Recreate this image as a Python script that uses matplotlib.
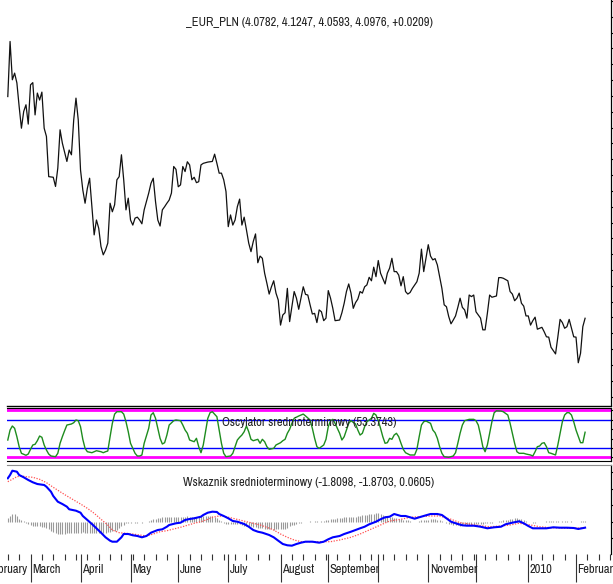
import numpy as np
import pandas as pd
import matplotlib
matplotlib.use("Agg")
import matplotlib.pyplot as plt
from matplotlib import font_manager
from matplotlib.ticker import MultipleLocator, FixedLocator

# narrow face for all labels if one is available, plain Liberation Sans otherwise
font_kw, font_size = dict(family='Liberation Sans'), 8.0
for f in font_manager.fontManager.ttflist:
    if 'Narrow' in f.name or 'Condensed' in f.name:
        font_kw, font_size = dict(family=f.name), 9.0
        break
    if f.stretch in ('condensed', 'semi-condensed') and f.name in ('DejaVu Sans', 'Liberation Sans', 'Roboto'):
        font_kw, font_size = dict(family=f.name, fontstretch=f.stretch), 9.0
plt.rcParams['font.family'] = [font_kw['family'], 'DejaVu Sans']

# trading sessions, position 0 = 2009-02-16 (first quote on the chart)
sessions = pd.bdate_range("2009-02-02", "2010-02-26")
origin = sessions.get_loc(pd.Timestamp("2009-02-16"))
session_pos = np.arange(len(sessions)) - origin

# EUR/PLN close
price_day = [0, 1, 2, 3, 4, 5, 6, 7, 8, 9, 10, 11, 12, 13, 14, 15, 16, 17, 18, 20,
             21, 22, 23, 24, 26, 27, 28, 29, 30, 31, 32, 33, 34, 35, 36, 37, 38, 39, 40, 41,
             42, 43, 44, 45, 46, 47, 48, 49, 50, 51, 52, 53, 54, 55, 56, 57, 58, 59, 60, 62,
             63, 64, 65, 66, 67, 68, 69, 70, 71, 72, 73, 74, 75, 76, 77, 78, 79, 80, 81, 82,
             83, 84, 85, 86, 88, 90, 91, 92, 93, 94, 95, 96, 97, 98, 99, 100, 101, 102, 103, 104,
             105, 106, 107, 108, 109, 110, 111, 112, 113, 114, 115, 116, 117, 118, 119, 120, 121, 122, 123, 124,
             126, 127, 128, 130, 131, 132, 133, 134, 135, 136, 137, 138, 139, 140, 141, 142, 143, 144, 146, 147,
             148, 149, 150, 151, 152, 153, 154, 155, 156, 157, 158, 159, 160, 161, 162, 163, 164, 166, 167, 168,
             169, 170, 171, 172, 173, 174, 175, 176, 177, 178, 180, 181, 182, 183, 185, 186, 187, 188, 189, 190,
             191, 192, 193, 194, 195, 196, 197, 198, 199, 200, 201, 202, 203, 204, 205, 206, 207, 208, 209, 210,
             211, 212, 213, 214, 215, 216, 217, 218, 220, 221, 222, 223, 224, 225, 226, 227, 228, 229, 230, 231,
             232, 233, 235, 236, 237, 238, 239, 241, 242, 243, 244, 245, 246, 247, 248, 249, 250, 251, 252, 253,
             254]
price = [4.798, 4.972, 4.851, 4.872, 4.841, 4.766, 4.698, 4.751, 4.772, 4.711, 4.835, 4.842, 4.740, 4.809, 4.787, 4.812, 4.698, 4.672, 4.545, 4.543,
         4.514, 4.572, 4.693, 4.651, 4.593, 4.629, 4.614, 4.724, 4.793, 4.724, 4.566, 4.503, 4.461, 4.508, 4.540, 4.450, 4.361, 4.408, 4.382, 4.324,
         4.298, 4.313, 4.335, 4.461, 4.434, 4.456, 4.535, 4.545, 4.614, 4.535, 4.440, 4.477, 4.408, 4.392, 4.414, 4.417, 4.408, 4.396, 4.440, 4.493,
         4.524, 4.540, 4.466, 4.408, 4.389, 4.440, 4.450, 4.461, 4.471, 4.493, 4.577, 4.568, 4.513, 4.519, 4.577, 4.561, 4.592, 4.582, 4.535, 4.543,
         4.526, 4.529, 4.582, 4.587, 4.591, 4.593, 4.616, 4.587, 4.556, 4.556, 4.535, 4.498, 4.387, 4.424, 4.392, 4.408, 4.450, 4.474, 4.392, 4.417,
         4.377, 4.335, 4.308, 4.340, 4.364, 4.273, 4.294, 4.287, 4.240, 4.208, 4.174, 4.197, 4.216, 4.177, 4.155, 4.076, 4.108, 4.115, 4.192, 4.087,
         4.182, 4.161, 4.126, 4.197, 4.173, 4.171, 4.140, 4.111, 4.113, 4.084, 4.124, 4.118, 4.090, 4.098, 4.185, 4.161, 4.129, 4.090, 4.092, 4.115,
         4.145, 4.182, 4.206, 4.177, 4.129, 4.147, 4.158, 4.182, 4.177, 4.197, 4.203, 4.227, 4.216, 4.259, 4.229, 4.280, 4.240, 4.206, 4.240, 4.256,
         4.287, 4.245, 4.245, 4.234, 4.200, 4.229, 4.182, 4.174, 4.179, 4.192, 4.213, 4.240, 4.316, 4.245, 4.330, 4.294, 4.282, 4.286, 4.266, 4.229,
         4.192, 4.140, 4.134, 4.103, 4.080, 4.092, 4.105, 4.132, 4.161, 4.132, 4.124, 4.098, 4.171, 4.166, 4.171, 4.118, 4.108, 4.098, 4.061, 4.061,
         4.113, 4.171, 4.164, 4.166, 4.168, 4.226, 4.226, 4.224, 4.216, 4.182, 4.174, 4.153, 4.161, 4.177, 4.145, 4.136, 4.105, 4.105, 4.076, 4.090,
         4.101, 4.063, 4.069, 4.055, 4.039, 4.038, 4.006, 3.985, 4.038, 4.094, 4.084, 4.066, 4.071, 4.094, 4.066, 4.039, 4.038, 3.957, 3.987, 4.071,
         4.0976]
last_open, last_high, last_low, last_change = 4.0782, 4.1247, 4.0593, 0.0209

# oscillator (0..100)
osc_day = [0, 1, 2, 3, 4, 5, 6, 8, 9, 10, 11, 12, 13, 14, 15, 16, 17, 18, 19, 21,
           22, 23, 24, 25, 26, 28, 29, 30, 31, 32, 33, 34, 35, 37, 38, 39, 41, 42, 43, 44,
           45, 46, 47, 48, 50, 51, 52, 53, 54, 56, 57, 58, 59, 60, 62, 63, 64, 65, 66, 67,
           68, 69, 70, 71, 73, 74, 76, 77, 78, 79, 80, 82, 83, 84, 85, 86, 87, 88, 89, 90,
           92, 93, 94, 95, 96, 98, 99, 100, 101, 102, 103, 104, 105, 106, 107, 108, 110, 111, 112, 113,
           114, 115, 117, 118, 120, 121, 122, 123, 124, 125, 126, 128, 129, 130, 131, 133, 134, 135, 136, 137,
           139, 140, 141, 142, 143, 144, 146, 147, 148, 149, 150, 151, 153, 154, 155, 156, 157, 158, 160, 161,
           162, 163, 164, 165, 166, 167, 168, 169, 170, 171, 172, 173, 174, 175, 177, 179, 180, 181, 182, 183,
           184, 186, 187, 188, 189, 190, 191, 192, 194, 196, 197, 198, 199, 200, 201, 202, 203, 205, 206, 207,
           208, 209, 210, 211, 212, 213, 214, 215, 217, 218, 220, 221, 222, 223, 224, 225, 227, 228, 230, 231,
           232, 233, 234, 235, 236, 237, 238, 239, 241, 242, 243, 244, 245, 246, 247, 248, 249, 250, 252, 253,
           254]
osc = [36.8, 58.0, 66.6, 61.7, 43.8, 22.6, 8.5, 4.3, 7.0, 17.0, 26.2, 27.7, 35.3, 45.3, 42.6, 26.2, 15.5, 7.0, 2.8, 1.3,
       8.5, 29.8, 43.8, 56.6, 68.7, 70.9, 73.6, 79.4, 77.9, 65.1, 38.3, 19.1, 11.9, 9.8, 11.9, 14.0, 11.9, 9.8, 11.9, 13.4,
       43.8, 72.3, 92.0, 97.0, 97.0, 92.0, 75.7, 54.5, 29.8, 8.5, 2.8, 2.8, 4.9, 29.8, 61.7, 90.0, 94.9, 83.0, 61.7, 40.4,
       28.3, 31.1, 47.4, 68.7, 77.9, 79.4, 77.9, 68.7, 58.1, 51.1, 36.8, 33.2, 40.4, 22.6, 9.8, 26.2, 54.5, 83.0, 94.9, 97.0,
       86.4, 58.1, 29.8, 8.5, 1.3, 2.8, 8.5, 22.6, 36.8, 42.6, 47.4, 54.5, 66.6, 54.5, 38.3, 35.3, 38.3, 29.8, 38.3, 33.2,
       22.6, 17.0, 19.1, 26.2, 31.1, 35.3, 38.3, 51.1, 59.6, 72.3, 83.0, 87.9, 90.0, 92.0, 88.0, 79.4, 61.7, 40.4, 22.6, 19.1,
       26.2, 38.3, 65.1, 77.9, 80.8, 72.3, 51.1, 36.8, 43.8, 58.1, 72.3, 77.9, 70.9, 58.1, 47.4, 51.1, 65.1, 75.7, 83.0, 93.6,
       90.0, 77.9, 61.7, 43.8, 29.8, 31.1, 40.4, 38.3, 47.4, 51.1, 43.8, 29.8, 17.0, 9.8, 4.9, 4.9, 17.0, 43.8, 68.7, 75.7,
       77.2, 72.3, 58.1, 52.3, 40.4, 22.6, 8.5, 1.3, 0.0, 2.8, 9.8, 29.8, 51.1, 68.7, 77.9, 79.4, 80.8, 80.8, 77.9, 68.7,
       47.4, 22.6, 11.9, 26.2, 51.1, 75.7, 94.9, 99.0, 98.5, 97.0, 90.0, 72.3, 51.1, 29.8, 11.9, 8.5, 8.5, 7.0, 4.9, 2.8,
       11.9, 22.6, 24.0, 29.8, 31.1, 22.6, 9.8, 8.5, 4.9, 26.2, 51.1, 75.7, 90.0, 94.9, 94.9, 90.0, 75.7, 58.1, 31.1, 31.1,
       53.3743]
osc_levels = [0, 20, 80, 100]

# medium-term indicator: main line, signal line, histogram
macd_day = [0, 1, 2, 4, 5, 7, 9, 11, 13, 16, 17, 19, 20, 22, 24, 26, 27, 30, 32, 33,
            35, 37, 39, 41, 43, 45, 46, 48, 50, 51, 53, 55, 57, 59, 61, 63, 66, 68, 70, 71,
            74, 76, 78, 80, 82, 85, 86, 88, 90, 92, 93, 95, 97, 99, 101, 104, 106, 108, 110, 112,
            115, 117, 119, 121, 123, 125, 127, 129, 131, 134, 137, 139, 141, 143, 146, 148, 151, 153, 155, 157,
            159, 162, 164, 166, 168, 170, 173, 175, 177, 179, 181, 184, 186, 189, 191, 193, 195, 198, 200, 202,
            205, 208, 211, 214, 217, 219, 222, 225, 227, 229, 231, 234, 237, 240, 243, 246, 249, 251, 254]
macd = [13.15, 14.15, 15.45, 15.15, 14.15, 13.45, 12.64, 11.94, 11.42, 11.12, 10.6, 9.09, 7.79, 6.06, 5.36, 4.55, 3.76, 3.33, 2.73, 1.73,
        0.52, -0.70, -2.0, -3.33, -4.73, -5.76, -6.06, -6.06, -4.73, -3.73, -3.73, -4.12, -4.33, -4.73, -4.33, -3.33, -2.52, -2.3, -1.52, -1.0,
        -0.48, -0.3, 0.52, 0.82, 1.03, 1.52, 2.03, 2.73, 3.03, 2.94, 2.33, 1.73, 1.03, 0.21, 0.0, -0.70, -1.52, -2.52, -3.03, -3.33,
        -4.03, -4.73, -5.76, -6.76, -7.15, -7.27, -6.76, -6.36, -6.06, -6.06, -6.36, -6.06, -5.33, -4.73, -4.33, -3.73, -3.03, -2.52, -2.0, -1.52,
        -0.79, 0.0, 0.73, 1.33, 1.52, 2.33, 1.73, 1.73, 1.33, 0.91, 1.33, 1.94, 2.33, 2.33, 2.03, 1.03, 0.0, -0.70, -1.09, -1.21,
        -1.21, -1.52, -2.0, -1.70, -1.52, -0.79, -0.3, 0.12, -0.48, -1.30, -2.0, -2.0, -2.0, -1.70, -1.82, -1.82, -1.91, -2.21, -1.8098]
signal_day = [0, 2, 4, 6, 8, 11, 14, 17, 20, 23, 26, 29, 32, 35, 38, 41, 44, 46, 49, 52,
              55, 58, 61, 64, 67, 70, 73, 76, 79, 82, 85, 88, 90, 93, 96, 99, 102, 105, 108, 111,
              114, 117, 120, 123, 126, 129, 133, 137, 142, 146, 151, 155, 159, 164, 168, 173, 177, 181, 186, 190,
              195, 199, 203, 208, 212, 217, 221, 225, 230, 234, 239, 243, 247, 254]
signal = [12.12, 12.85, 13.64, 13.85, 13.64, 13.45, 12.85, 11.82, 10.42, 9.09, 7.79, 6.58, 5.36, 4.06, 2.55, 0.73, -1.0, -2.52, -3.33, -3.52,
          -3.73, -4.03, -4.33, -3.73, -3.03, -2.73, -2.21, -1.70, -1.09, -0.48, 0.0, 0.73, 1.33, 1.73, 1.52, 1.03, 0.52, 0.0, -0.48, -1.0,
          -1.70, -2.52, -3.73, -4.73, -5.55, -6.06, -6.06, -6.06, -6.06, -5.55, -4.73, -3.73, -2.52, -1.0, 0.21, 0.73, 1.33, 1.52, 1.73, 1.73,
          0.73, -0.3, -0.70, -1.21, -1.52, -1.30, -1.0, -0.48, -1.0, -1.52, -1.82, -1.91, -2.0, -1.8703]
hist = [1.0, 1.8, 2.3, 2.3, 1.6, 0.9, 0.4, 0.1, -0.5, -0.8,
        -1.0, -1.2, -1.3, -1.3, -1.4, -1.6, -1.7, -1.8, -2.2, -2.7,
        -3.0, -3.3, -3.6, -3.8, -3.7, -3.6, -3.5, -3.5, -3.4, -3.5,
        -3.4, -3.3, -3.3, -3.2, -3.3, -3.4, -3.5, -3.5, -3.4, -3.4,
        -3.3, -3.4, -3.4, -3.3, -3.2, -3.0, -2.8, -2.7, -2.5, -2.0,
        -1.3, -0.9, -0.5, -0.3, -0.3, -0.2, -0.3, -0.3, -0.2, -0.3,
        -0.2, -0.1, 0.2, 0.5, 0.7, 0.8, 1.0, 1.2, 1.3, 1.3,
        1.4, 1.3, 1.3, 1.4, 1.5, 1.5, 1.4, 1.5, 1.5, 1.6,
        1.5, 1.5, 1.4, 1.5, 1.6, 1.6, 1.7, 1.8, 1.8, 1.7,
        1.6, 1.3, 1.0, 0.6, 0.1, -0.3, -0.6, -0.7, -0.7, -0.7,
        -0.6, -0.7, -0.8, -1.0, -1.2, -1.3, -1.3, -1.4, -1.5, -1.7,
        -1.9, -2.0, -2.0, -2.1, -2.2, -2.3, -2.3, -2.4, -2.3, -2.3,
        -2.2, -2.3, -2.1, -1.8, -1.4, -1.1, -1.0, -0.8, -0.5, -0.3,
        -0.2, -0.1, 0.0, 0.1, 0.0, 0.1, 0.1, 0.0, 0.2, 0.3,
        0.4, 0.5, 0.7, 0.8, 0.9, 1.0, 1.1, 1.2, 1.3, 1.3,
        1.4, 1.3, 1.4, 1.5, 1.6, 1.8, 1.9, 2.0, 2.1, 2.2,
        2.3, 2.4, 2.5, 2.5, 2.3, 2.0, 1.8, 1.7, 1.5, 1.3,
        1.1, 1.0, 0.9, 0.7, 0.5, 0.5, 0.4, 0.2, 0.0, -0.1,
        0.0, 0.2, 0.4, 0.5, 0.5, 0.6, 0.7, 0.7, 0.7, 0.6,
        0.4, 0.1, -0.2, -0.4, -0.6, -0.8, -1.0, -1.1, -1.1, -1.2,
        -1.1, -1.1, -1.0, -1.0, -0.9, -0.8, -0.7, -0.7, -0.6, -0.6,
        -0.5, -0.4, -0.3, -0.3, -0.2, -0.1, 0.1, 0.3, 0.4, 0.5,
        0.6, 0.8, 0.9, 1.0, 1.0, 0.9, 0.7, 0.5, 0.3, 0.0,
        -0.2, -0.3, -0.3, -0.2, -0.1, 0.0, 0.0, 0.1, 0.1, 0.1,
        0.2, 0.1, 0.1, 0.0, 0.1, 0.1, 0.1, 0.0, 0.1, 0.0,
        -0.1, 0.0, 0.1, 0.1, 0.0605]

month_labels = ["February", "March", "April", "May", "June", "July", "August",
                "September", "", "November", "", "2010", "February"]

W, H = 613, 584
fig = plt.figure(figsize=(W / 100, H / 100), dpi=100)


def panel(top, bottom, left=7, right=611):
    return fig.add_axes([left / W, 1 - bottom / H, (right - left) / W, (bottom - top) / H])


ax_p = panel(0, 405.5)
ax_o = panel(407.5, 460.5)
ax_m = panel(465, 554)

xmin, xmax = -0.35, 265.4
for ax in (ax_p, ax_o, ax_m):
    ax.set_xlim(xmin, xmax)
    ax.spines['left'].set_visible(False)
    ax.spines['right'].set_color('black')
    ax.spines['right'].set_linewidth(0.9)
    ax.tick_params(axis='y', left=False, labelleft=False, right=True, labelright=False,
                   direction='out', length=2, width=0.8)
    ax.patch.set_alpha(0)

text_kw = dict(ha='center', va='center', fontsize=font_size, color='#222222', **font_kw)

# price panel
ax_p.plot(price_day, price, color='#111111', lw=0.9)
ax_p.set_ylim(3.822, 5.103)
ax_p.yaxis.set_major_locator(MultipleLocator(0.05))
ax_p.spines['top'].set_visible(False)
ax_p.spines['bottom'].set_linewidth(1.0)
ax_p.tick_params(axis='x', bottom=False, labelbottom=False)
title = "_EUR_PLN ({:.4f}, {:.4f}, {:.4f}, {:.4f}, {:+.4f})".format(
    last_open, last_high, last_low, price[-1], last_change)
ax_p.text(0.5, 1 - 23 / 405.5, title, transform=ax_p.transAxes, **text_kw)

# oscillator panel
ax_o.set_ylim(-6.8, 106)
for lvl in osc_levels:
    if lvl in (0, 100):
        ax_o.axhline(lvl, color='#ff00ff', lw=2.0, zorder=1)
    else:
        ax_o.axhline(lvl, color='#0000ff', lw=1.0, zorder=1)
ax_o.plot(osc_day, osc, color='#1e8c1e', lw=1.0, zorder=2)
ax_o.yaxis.set_major_locator(MultipleLocator(20))
ax_o.tick_params(axis='x', bottom=False, labelbottom=False)
ax_o.text(0.5, 1 - 15.5 / 53, "Oscylator srednioterminowy ({:.4f})".format(osc[-1]),
          transform=ax_o.transAxes, zorder=5, **text_kw)

# indicator panel
ax_m.set_ylim(-9.79, 17.18)
ax_m.vlines(np.arange(len(hist)), 0, hist, colors='#9a9a9a', lw=0.8, zorder=1)
ax_m.plot(signal_day, signal, color='#ff5050', lw=0.9, ls=(0, (1, 1.2)), zorder=2)
ax_m.plot(macd_day, macd, color='#0000ff', lw=1.5, zorder=3)
ax_m.yaxis.set_major_locator(MultipleLocator(5))
ax_m.spines['bottom'].set_visible(False)
ax_m.spines['top'].set_color('#8c8c8c')
ax_m.text(0.5, 1 - 17 / 89, "Wskaznik srednioterminowy ({:.4f}, {:.4f}, {:.4f})".format(
    macd[-1], signal[-1], hist[-1]), transform=ax_m.transAxes, **text_kw)

# time axis: long ticks at month starts, short ticks on Mondays
first_of_month = np.r_[True, sessions.month[1:] != sessions.month[:-1]]
month_pos = session_pos[first_of_month]
monday_pos = session_pos[sessions.dayofweek == 0]
ax_m.xaxis.set_major_locator(FixedLocator(month_pos))
ax_m.xaxis.set_minor_locator(FixedLocator(monday_pos))
ax_m.tick_params(axis='x', which='major', bottom=True, labelbottom=False,
                 direction='out', length=20, width=0.8, color='#333333')
ax_m.tick_params(axis='x', which='minor', bottom=True, direction='out',
                 length=4.3, width=0.8, color='#333333')
for pos, lab in zip(month_pos, month_labels):
    if lab:
        ax_m.annotate(lab, xy=(pos, 0), xycoords=('data', 'axes fraction'),
                      xytext=(1.1, -11.5), textcoords='offset points',
                      ha='left', va='center', fontsize=font_size, color='#222222',
                      annotation_clip=False, **font_kw)

fig.savefig("out.png", dpi=100)
